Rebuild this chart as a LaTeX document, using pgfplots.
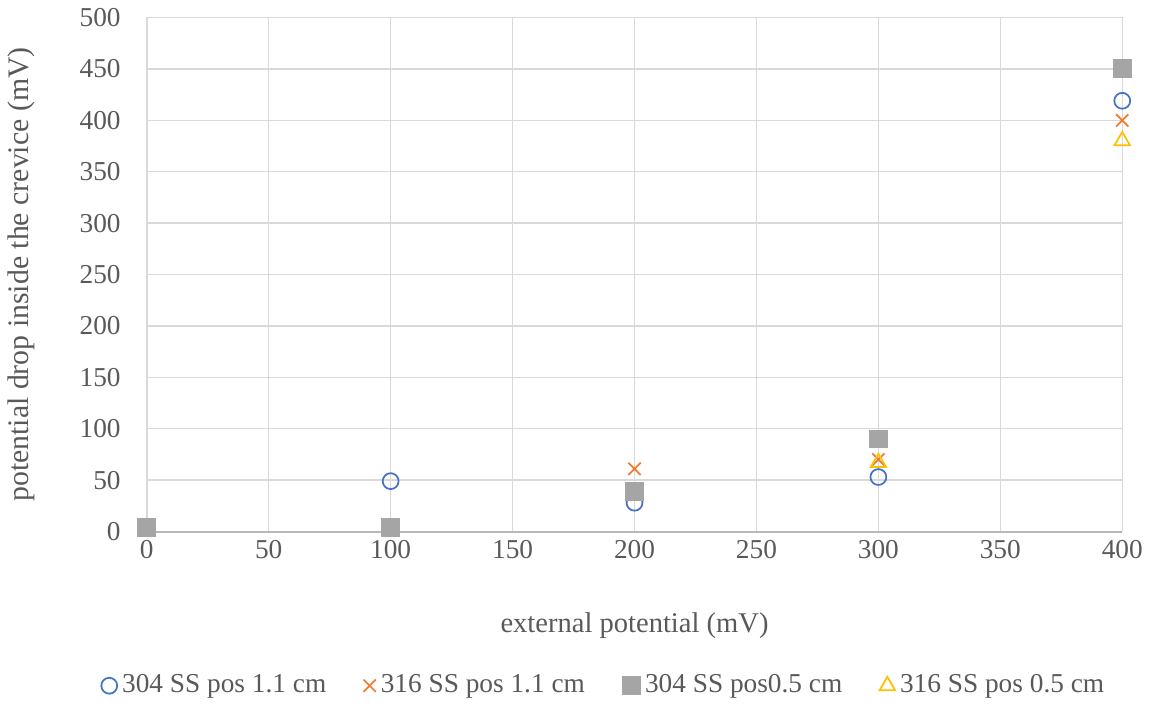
\documentclass[border=0pt]{standalone}
\usepackage{pgfplots}
\pgfplotsset{compat=1.18}
\usepackage{fontspec}
\setmainfont{Liberation Serif}
\definecolor{cblue}{HTML}{4472C4}
\definecolor{corange}{HTML}{ED7D31}
\definecolor{cgrey}{HTML}{A5A5A5}
\definecolor{cyellow}{HTML}{FFC000}
\definecolor{gridc}{HTML}{D9D9D9}
\definecolor{textc}{HTML}{595959}
\begin{document}
\begin{tikzpicture}
\begin{axis}[
  scale only axis,
  width=392.8pt, height=207pt,
  xmin=0, xmax=400, ymin=0, ymax=500,
  xtick={0,50,...,400}, ytick={0,50,...,500},
  grid=major,
  major grid style={gridc, line width=0.6pt},
  axis line style={draw=none},
  tick style={draw=none},
  clip=false,
  /pgf/number format/assume math mode=true,
  ticklabel style={font=\fontsize{11}{13}\selectfont, text=textc},
  xticklabel style={yshift=0pt},
  yticklabel style={xshift=-7pt},
  xlabel={external potential (mV)},
  ylabel={potential drop inside the crevice (mV)},
  xlabel style={font=\fontsize{11.5}{13}\selectfont, text=textc, yshift=-15pt},
  ylabel style={font=\fontsize{12}{14}\selectfont, text=textc, yshift=11pt},
  legend style={at={(0.47,-0.30)}, anchor=center, draw=none,
    font=\fontsize{11}{13}\selectfont, text=textc,
    /tikz/every even column/.append style={column sep=13pt},
    /tikz/every odd column/.append style={column sep=0pt}},
  legend columns=4,
  legend cell align=left,
  legend image code/.code={\draw[#1] plot coordinates {(0.15cm,0cm)};},
]
\draw[cgrey!80, line width=0.8pt] (axis cs:0,0) -- (axis cs:400,0);
\addplot[only marks, mark=o, mark size=3.2pt, cblue, line width=0.7pt]
  coordinates {(100,49) (200,28) (300,53) (400,419)};
\addlegendentry{304 SS pos 1.1 cm}
\addplot[only marks, mark=x, mark size=3.5pt, corange, line width=0.7pt]
  coordinates {(200,61) (300,70) (400,400)};
\addlegendentry{316 SS pos 1.1 cm}
\addplot[only marks, mark=square*, mark size=3.6pt, cgrey, fill=cgrey]
  coordinates {(0,4) (100,4) (200,39) (300,90) (400,450)};
\addlegendentry{304 SS pos0.5 cm}
\addplot[only marks, mark=triangle, mark size=3.6pt, cyellow, line width=0.7pt]
  coordinates {(300,67) (400,380)};
\addlegendentry{316 SS pos 0.5 cm}
\end{axis}
\end{tikzpicture}
\end{document}
